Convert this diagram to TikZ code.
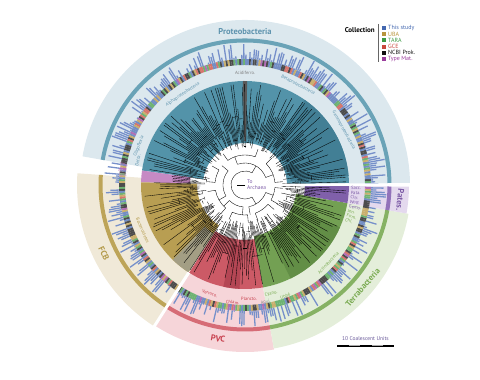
\documentclass[tikz,border=0pt]{standalone}
\usepackage{fontspec}
\setmainfont{PT Sans}
\usetikzlibrary{positioning}
% group colours
\definecolor{proteo}{HTML}{5393A9}
\definecolor{proteoDark}{HTML}{427F95}
\definecolor{proteoPale}{HTML}{DCE8EE}
\definecolor{proteoBand}{HTML}{6AA3B7}
\definecolor{proteoText}{HTML}{5E93AE}
\definecolor{minor}{HTML}{C68AC4}
\definecolor{minorText}{HTML}{C070B8}
\definecolor{fcb}{HTML}{B89E52}
\definecolor{fcbGrey}{HTML}{A39E84}
\definecolor{fcbPale}{HTML}{F0E9D8}
\definecolor{fcbBand}{HTML}{BDA458}
\definecolor{fcbText}{HTML}{B39A4A}
\definecolor{pvc}{HTML}{CC5A66}
\definecolor{pvcDark}{HTML}{B44654}
\definecolor{pvcPale}{HTML}{F6D5D9}
\definecolor{pvcBand}{HTML}{D66C76}
\definecolor{pvcText}{HTML}{C8404E}
\definecolor{terra}{HTML}{73A053}
\definecolor{terraDark}{HTML}{628E46}
\definecolor{terraPale}{HTML}{E4EEDA}
\definecolor{terraBand}{HTML}{86B264}
\definecolor{terraText}{HTML}{7AAB52}
\definecolor{pates}{HTML}{8060AA}
\definecolor{patesPale}{HTML}{E4D9EE}
\definecolor{patesBand}{HTML}{9272BA}
\definecolor{patesText}{HTML}{7D5CA7}
% collection colours
\definecolor{cStudy}{HTML}{4468B0}
\definecolor{cUBA}{HTML}{B8953C}
\definecolor{cTARA}{HTML}{3E9A44}
\definecolor{cGCE}{HTML}{C9473D}
\definecolor{cNCBI}{HTML}{111111}
\definecolor{cType}{HTML}{9A3C9C}
\definecolor{barBlue}{HTML}{7690CA}
\definecolor{scaleText}{HTML}{6A5A9A}

% annular sector: start, end, inner radius, outer radius, fill
\newcommand{\ringpart}[5]{%
  \fill[#5] (#1:#3) arc[start angle=#1, end angle=#2, radius=#3]
    -- (#2:#4) arc[start angle=#2, end angle=#1, radius=#4] -- cycle;}

\begin{document}
\begin{tikzpicture}[x=1pt, y=1pt,
  branch/.style={line width=0.35pt, black},
  grouplabel/.style={font=\fontsize{8.5}{10}\selectfont\bfseries, inner sep=0pt},
  cladelabel/.style={font=\fontsize{4.6}{5}\selectfont, inner sep=0pt},
  legendtext/.style={font=\fontsize{6}{7}\selectfont, anchor=west, inner sep=0pt}]
\useasboundingbox (0,0) rectangle (480,380);

\begin{scope}[shift={(245,195)}]
  % Outer pale rings per superphylum
  \ringpart{0.6}{170}{104}{165}{proteoPale}
  \ringpart{176}{237}{104}{168}{fcbPale}
  \ringpart{237}{280}{104}{167}{pvcPale}
  \ringpart{280}{350}{104}{166}{terraPale}
  \ringpart{350}{359.4}{104}{164}{patesPale}

  % darker bands
  \ringpart{0.6}{170}{142.5}{146.5}{proteoBand}
  \ringpart{176}{237}{142.5}{146.5}{fcbBand}
  \ringpart{237}{280}{142.5}{146.5}{pvcBand}
  \ringpart{280}{350}{142.5}{146.5}{terraBand}
  \ringpart{350}{359.4}{142.5}{146.5}{patesBand}

  % Clade wedges
  \ringpart{1}{172}{42}{104}{proteo}
  \ringpart{5}{55}{46}{104}{proteoDark}
  \ringpart{88.8}{91.2}{44}{104}{black!65}
  \ringpart{172}{178.5}{55}{104}{minor}
  \ringpart{178.5}{237}{48}{104}{fcb}
  \ringpart{226}{237}{58}{104}{fcbGrey}
  \ringpart{237.5}{280}{55}{104}{pvc}
  \ringpart{258}{267}{60}{104}{pvcDark}
  \ringpart{280}{350}{52}{104}{terra}
  \ringpart{296}{336}{56}{104}{terraDark}
  \ringpart{350}{359.5}{60}{104}{pates}

  % Tree: inner dendrogram
  \foreach \r/\s/\e in {14/60/300, 22/20/110, 22/140/210, 22/225/265, 22/280/340,
      30/5/45, 30/70/125, 30/150/175, 30/190/230, 30/245/275, 30/290/320, 30/330/355}
    \draw[branch] (\s:\r) arc[start angle=\s, end angle=\e, radius=\r]
      (\s:\r) -- ({\s}:{\r+8}) (\e:\r) -- ({\e}:{\r+8});

  % Tree: tips
  \pgfmathsetseed{42}
  \foreach \a in {0.5,1.8,...,359.5}{
    \pgfmathsetmacro\ra{36+20*rnd}
    \pgfmathsetmacro\rb{min(101,\ra+8+58*rnd)}
    \draw[branch] (\a:\ra) -- (\a:\rb);
  }
  \foreach \a in {0,4,...,356}{
    \pgfmathsetmacro\rc{38+34*rnd}
    \draw[branch] (\a:\rc) arc[start angle=\a, end angle=\a+4, radius=\rc];
  }

  % Collection strip
  \pgfmathdeclarerandomlist{coll}{{cStudy}{cStudy}{cStudy}{cUBA}{cUBA}{cTARA}{cTARA}{cGCE}{cNCBI}{cNCBI}{cNCBI}{cType}}
  \foreach \a in {0.5,1.4,...,359.5}{
    \pgfmathrandomitem{\c}{coll}
    \draw[line width=2pt, \c!75] (\a:120) -- (\a:126);
  }

  % Genome bars
  \foreach \a in {0.5,1.4,...,359.5}{
    \pgfmathsetmacro\bl{126+max(0,24*rnd-8)}
    \draw[barBlue, line width=1.3pt] (\a:126) -- (\a:\bl);
  }

  % gaps
  \draw[white, line width=2.5pt] (0.2:40) -- (0.2:172);
  \draw[white, line width=3pt] (237.3:104) -- (237.3:172);

  % Group labels
  \node[grouplabel, text=proteoText] (proteobacteria) at (90:153) {Proteobacteria};
  \node[grouplabel, text=fcbText, rotate=296] (fcbname) at (206:157) {FCB};
  \node[grouplabel, text=pvcText, rotate=350] (pvcname) at (260:156) {PVC};
  \node[grouplabel, text=terraText, rotate=49] (terrabacteria) at (319:156) {Terrabacteria};
  \node[grouplabel, text=patesText, rotate=264] (pates) at (354.5:156) {Pates.};

  % Clade labels
  \node[cladelabel, text=proteoText, rotate=-61] (gamma) at (29:113) {Gammaproteobacteria};
  \node[cladelabel, text=proteoText, rotate=-28] (beta) at (62:113) {Betaproteobacteria};
  \node[cladelabel, text=black!50] (acidiferro) at (90:112) {Acidiferro.};
  \node[cladelabel, text=proteoText, rotate=34] (alpha) at (124.5:110) {Alphaproteobacteria};
  \node[cladelabel, text=proteoText, rotate=70] (oligo) at (160:113) {Oligoflexia};
  \node[cladelabel, text=proteoText, rotate=77] (delta) at (167:110) {Delta.};
  \node[cladelabel, text=minorText, anchor=east, rotate=-10] (dep) at (170.5:118) {Dep.};
  \node[cladelabel, text=minorText, anchor=east, rotate=-7] (acid) at (173:118) {Acid.};
  \node[cladelabel, text=minorText, anchor=east, rotate=-4] (spir) at (175.5:118) {Spir.};
  \node[cladelabel, text=fcbText, rotate=294] (bacteroidetes) at (204:112) {Bacteroidetes};
  \node[cladelabel, text=pvcText, rotate=-18] (verruco) at (252:114) {Verruco.};
  \node[cladelabel, text=pvcText, rotate=-6] (chlam) at (264:118) {Chlam.};
  \node[cladelabel, text=pvcText, rotate=2] (plancto) at (272:114) {Plancto.};
  \node[cladelabel, text=terraText, rotate=12] (cyano) at (283.5:112) {Cyano.};
  \node[cladelabel, text=black!45, rotate=10] (aqui) at (280:119) {Aqui.};
  \node[cladelabel, text=terraText, rotate=20] (ubb) at (290:118) {Ubb6};
  \node[cladelabel, text=terraText, rotate=47] (actino) at (317:114) {Actinobacteria};
  \foreach \t/\a/\col in {Sacc./358.5/patesText, Pata./356/patesText, Cltr./353.5/patesText,
      Wolf./351/patesText, Gemo./348.5/patesText, Jen./346/terraText,
      Firm./343.5/terraText, Chl./341/terraText}
    \node[cladelabel, text=\col, anchor=west, rotate=\a] (lab\t) at (\a:106) {\t};

  % Root
  \draw[branch] (0:0) -- (180:8);
  \node[cladelabel, text=patesText, font=\fontsize{5.5}{6}\selectfont, align=left, anchor=west] (archaea) at (2,0) {To\\Archaea};
\end{scope}

% Legend
\node[font=\fontsize{7}{8}\selectfont\bfseries, anchor=east, inner sep=0pt] (collection) at (375,350) {Collection};
\draw[line width=0.6pt, black!60] (378.5,356) -- (378.5,318);
\foreach \c/\t [count=\i] in {cStudy/This study, cUBA/UBA, cTARA/TARA, cGCE/GCE, cNCBI/NCBI Prok., cType/Type Mat.}{
  \pgfmathsetmacro\yy{352-6.2*(\i-1)}
  \fill[\c] (381.5,\yy-2) rectangle +(4,4);
  \node[legendtext, text=\c] (leg\i) at (388,\yy) {\t};
}

% Scale bar
\node[font=\fontsize{5.5}{6}\selectfont, text=scaleText, inner sep=0pt] (scalelabel) at (365.5,41) {10 Coalescent Units};
\draw[line width=1.3pt] (337,34) -- (394,34);
\draw[line width=0.6pt, black!35] (349,34.3) -- (360,34.3) (372,34.3) -- (383,34.3);
\end{tikzpicture}
\end{document}
